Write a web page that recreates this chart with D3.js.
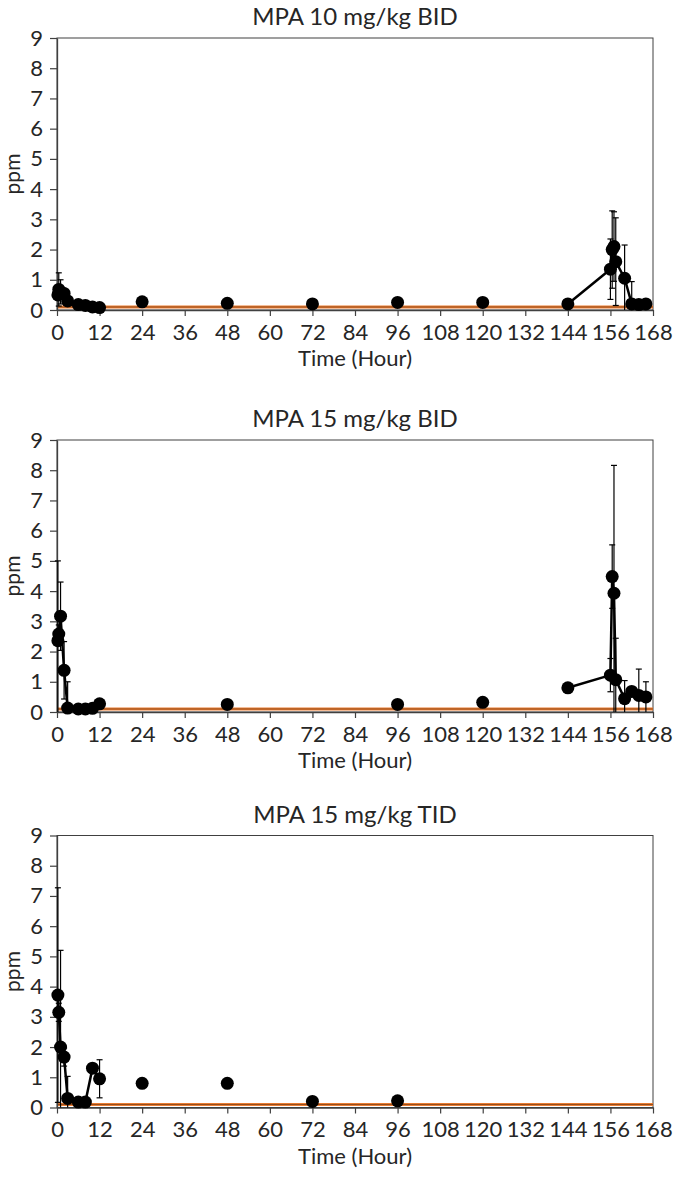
<!DOCTYPE html>
<html>
<head>
<meta charset="utf-8">
<script src="https://cdn.jsdelivr.net/npm/d3@7/dist/d3.min.js"></script>
<style>
  html, body { margin: 0; padding: 0; background: #fff; }
  svg { display: block; font-family: Lato, "Open Sans", sans-serif; }
</style>
</head>
<body>
<svg id="chart" width="673" height="1180"></svg>
<script>
// ---------------- DATA ----------------
const xTicks = [0, 12, 24, 36, 48, 60, 72, 84, 96, 108, 120, 132, 144, 156, 168];
const yTicks = [0, 1, 2, 3, 4, 5, 6, 7, 8, 9];
const titles = ["MPA 10 mg/kg BID", "MPA 15 mg/kg BID", "MPA 15 mg/kg TID"];
const xTitle = "Time (Hour)";
const yTitle = "ppm";
const loqValue = 0.1;

// null = no sample (breaks the connecting line)
const time1 = [0.25, 0.5, 1, 2, 3, 6, 8, 10, 12, 18, 24, 36, 48, 60, 72, 84, 96, 108, 120, 132, 144, 156, 156.5, 157, 157.5, 160, 162, 164, 166];
const conc1 = [0.5, 0.68, 0.6, 0.55, 0.3, 0.18, 0.15, 0.1, 0.08, null, 0.27, null, 0.22, null, 0.2, null, 0.25, null, 0.25, null, 0.2, 1.35, 2.0, 2.1, 1.6, 1.05, 0.2, 0.18, 0.2];
const sd1   = [0.1, 0.55, 0.4, 0.1, 0.1, 0.05, 0.05, 0.05, 0.03, null, 0, null, 0, null, 0, null, 0, null, 0, null, 0, 1.0, 1.28, 1.15, 1.45, 1.1, 0.74, 0.05, 0.05];

const time2 = [0.25, 0.5, 1, 2, 3, 6, 8, 10, 12, 30, 48, 72, 96, 108, 120, 132, 144, 156, 156.5, 157, 157.5, 160, 162, 164, 166];
const conc2 = [2.36, 2.58, 3.17, 1.38, 0.13, 0.1, 0.1, 0.12, 0.27, null, 0.25, null, 0.25, null, 0.32, null, 0.8, 1.22, 4.48, 3.93, 1.07, 0.44, 0.68, 0.55, 0.5];
const sd2   = [2.64, 0.3, 1.13, 0.95, 0.87, 0.05, 0.05, 0.05, 0.05, null, 0, null, 0, null, 0, null, 0, 0.55, 1.05, 4.23, 1.37, 0.6, 0.1, 0.87, 0.5];

const time3 = [0.25, 0.5, 1, 2, 3, 6, 8, 10, 12, 18, 24, 36, 48, 60, 72, 84, 96];
const conc3 = [3.72, 3.15, 2.0, 1.67, 0.3, 0.18, 0.18, 1.3, 0.95, null, 0.8, null, 0.8, null, 0.2, null, 0.22];
const sd3   = [3.55, 0.3, 3.2, 0.3, 0.73, 0.05, 0.05, 0.05, 0.63, null, 0, null, 0, null, 0, null, 0];

const series = [
  { title: titles[0], time: time1, conc: conc1, sd: sd1 },
  { title: titles[1], time: time2, conc: conc2, sd: sd2 },
  { title: titles[2], time: time3, conc: conc3, sd: sd3 }
];

// ---------------- LAYOUT ----------------
const offsets = [0, 402, 797.5];
const plotLeft = 57, plotRight = 653, plotTop = 38, plotBottom = 310;
const axisColor = "#404040", textColor = "#262626";

const svg = d3.select("#chart");
const x = d3.scaleLinear().domain([0, 168]).range([plotLeft, plotRight]);

series.forEach((s, i) => {
  const off = offsets[i];
  const y = d3.scaleLinear().domain([0, 9]).range([off + plotBottom, off + plotTop]);
  const g = svg.append("g");

  const pts = s.time.map((t, k) => ({ t, c: s.conc[k], e: s.sd[k] }));

  // plot border
  g.append("rect")
    .attr("x", x(0)).attr("y", y(9))
    .attr("width", x(168) - x(0)).attr("height", y(0) - y(9))
    .attr("fill", "none").attr("stroke", axisColor).attr("stroke-width", 1);

  // LOQ line
  g.append("line")
    .attr("x1", x(0)).attr("x2", x(168))
    .attr("y1", y(loqValue)).attr("y2", y(loqValue))
    .attr("stroke", "#ED7D31").attr("stroke-width", 3);
  g.append("line")
    .attr("x1", x(0)).attr("x2", x(168))
    .attr("y1", y(loqValue)).attr("y2", y(loqValue))
    .attr("stroke", "#6b3a17").attr("stroke-width", 0.7);

  // axes
  const xAxis = g.append("g")
    .attr("transform", `translate(0,${y(0)})`)
    .call(d3.axisBottom(x).tickValues(xTicks).tickSize(6).tickSizeOuter(0).tickPadding(8));
  const yAxis = g.append("g")
    .attr("transform", `translate(${x(0)},0)`)
    .call(d3.axisLeft(y).tickValues(yTicks).tickSize(7).tickSizeOuter(0).tickPadding(7));
  [xAxis, yAxis].forEach(a => {
    a.select(".domain").attr("stroke", axisColor).attr("stroke-width", 1.3);
    a.selectAll(".tick line").attr("stroke", axisColor).attr("stroke-width", 1.2);
    a.selectAll(".tick text").attr("fill", textColor).style("font-size", "22px")
      .style("font-family", "Lato, sans-serif");
  });

  // error bars
  const valid = pts.filter(d => d.c != null);
  const cap = 3;
  valid.filter(d => d.e > 0).forEach(d => {
    const lo = Math.max(0, d.c - d.e), hi = d.c + d.e;
    g.append("line").attr("x1", x(d.t)).attr("x2", x(d.t))
      .attr("y1", y(lo)).attr("y2", y(hi))
      .attr("stroke", "#000").attr("stroke-width", 1.2);
    g.append("line").attr("x1", x(d.t) - cap).attr("x2", x(d.t) + cap)
      .attr("y1", y(hi)).attr("y2", y(hi))
      .attr("stroke", "#000").attr("stroke-width", 1.2);
    if (d.c - d.e > 0) {
      g.append("line").attr("x1", x(d.t) - cap).attr("x2", x(d.t) + cap)
        .attr("y1", y(lo)).attr("y2", y(lo))
        .attr("stroke", "#000").attr("stroke-width", 1.2);
    }
  });

  // connecting line
  const line = d3.line().defined(d => d.c != null).x(d => x(d.t)).y(d => y(d.c));
  g.append("path").datum(pts).attr("d", line)
    .attr("fill", "none").attr("stroke", "#000").attr("stroke-width", 2.5)
    .attr("stroke-linejoin", "round");

  // markers
  g.selectAll("circle.pt").data(valid).join("circle")
    .attr("class", "pt")
    .attr("cx", d => x(d.t)).attr("cy", d => y(d.c)).attr("r", 6.5)
    .attr("fill", "#000");

  // titles
  g.append("text").attr("x", (x(0) + x(168)) / 2).attr("y", off + 25)
    .attr("text-anchor", "middle").attr("fill", textColor)
    .style("font-size", "24px").text(s.title);
  g.append("text").attr("x", (x(0) + x(168)) / 2).attr("y", off + 366)
    .attr("text-anchor", "middle").attr("fill", textColor)
    .style("font-size", "22px").text(xTitle);
  g.append("text")
    .attr("transform", `translate(20,${(y(0) + y(9)) / 2}) rotate(-90)`)
    .attr("text-anchor", "middle").attr("fill", textColor)
    .style("font-size", "21px").text(yTitle);
});
</script>
</body>
</html>
